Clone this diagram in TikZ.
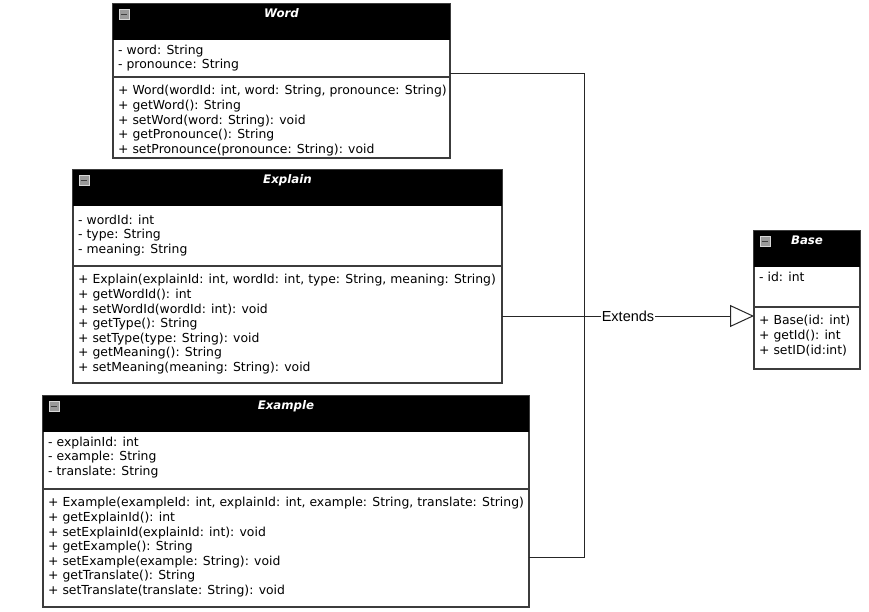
\documentclass[tikz,border=0pt]{standalone}
\usepackage{fontspec}
\setmainfont{DejaVu Sans}
\newfontfamily\edgefont{Liberation Sans}
\usetikzlibrary{arrows.meta,calc}
\definecolor{umlborder}{HTML}{3C3C3C}
\definecolor{iconfill}{HTML}{9A9A9A}
\definecolor{iconedge}{HTML}{D8D8D8}
\tikzset{
  classbox/.style={draw=umlborder, line width=1.3pt, fill=white, anchor=north west, inner sep=0pt, outer sep=0pt},
  headbar/.style={fill=black, anchor=north west, inner sep=0pt, outer sep=0pt, minimum height=36pt},
  classtitle/.style={text=white, font=\fontsize{11.8}{14}\selectfont\bfseries\itshape, text height=8.5pt, text depth=2pt, inner sep=0pt},
  minicon/.style={draw=iconedge, fill=iconfill, line width=0.8pt, minimum size=10pt, inner sep=0pt},
  members/.style={anchor=north west, align=left, inner sep=0pt, font=\fontsize{12.4}{14.6}\selectfont},
  sepline/.style={draw=umlborder, line width=1.3pt},
  link/.style={draw=black!85, line width=1pt},
  extends/.style={link, -{Triangle[open, length=24pt, width=22pt, fill=white]}},
  edgelabel/.style={fill=white, inner sep=0.5pt, font=\edgefont\fontsize{14.5}{16}\selectfont},
}
% #1 name, #2 top-left corner, #3 width, #4 height, #5 separator offset,
% #6 attribute offset, #7 title, #8 attributes, #9 operations
\newcommand{\umlclass}[9]{%
  \node[classbox, minimum width=#3pt, minimum height=#4pt] (#1) at (#2) {};
  \node[headbar, minimum width=#3pt] (#1-head) at (#1.north west) {};
  \node[minicon] (#1-icon) at ([xshift=11pt, yshift=-10pt]#1.north west) {};
  \draw[line width=1.3pt, black!75] ([xshift=2pt, yshift=-0.8pt]#1-icon.west) -- ([xshift=-2pt, yshift=-0.8pt]#1-icon.east);
  \node[classtitle] (#1-title) at ([yshift=-10pt]#1.north) {#7};
  \draw[sepline] ([yshift=-#5pt]#1.north west) -- ([yshift=-#5pt]#1.north east);
  \node[members] (#1-attrs) at ([xshift=5pt, yshift=-#6pt]#1.north west) {\rule{0pt}{10pt}#8};
  \node[members] (#1-ops) at ([xshift=5pt, yshift=-#5pt-7.6pt]#1.north west) {\rule{0pt}{10pt}#9};
}
\begin{document}
\begin{tikzpicture}[x=1pt, y=-1pt]
\useasboundingbox[fill=white] (0,0) rectangle (869,611);

\umlclass{word}{113,4}{337}{154}{73}{40.1}{Word}
  {- word: String\\- pronounce: String}
  {+ Word(wordId: int, word: String, pronounce: String)\\+ getWord(): String\\+ setWord(word: String): void\\+ getPronounce(): String\\+ setPronounce(pronounce: String): void}

\umlclass{explain}{73,170}{429}{213}{96}{44.1}{Explain}
  {- wordId: int\\- type: String\\- meaning: String}
  {+ Explain(explainId: int, wordId: int, type: String, meaning: String)\\+ getWordId(): int\\+ setWordId(wordId: int): void\\+ getType(): String\\+ setType(type: String): void\\+ getMeaning(): String\\+ setMeaning(meaning: String): void}

\umlclass{example}{43,396}{486}{211}{93}{40.1}{Example}
  {- explainId: int\\- example: String\\- translate: String}
  {+ Example(exampleId: int, explainId: int, example: String, translate: String)\\+ getExplainId(): int\\+ setExplainId(explainId: int): void\\+ getExample(): String\\+ setExample(example: String): void\\+ getTranslate(): String\\+ setTranslate(translate: String): void}

\umlclass{base}{754,231}{106}{138}{76}{40.1}{Base}
  {- id: int}
  {+ Base(id: int)\\+ getId(): int\\+ setID(id:int)}

% generalisation edges joining on a shared vertical bus
\coordinate (bus) at (584,316);
\draw[link] ([yshift=-69pt]word.north east) -| (bus);
\draw[link] ([yshift=-161pt]example.north east) -| (bus);
\draw[extends] ([yshift=-146pt]explain.north east) -- node[edgelabel, pos=0.5] (extlabel) {Extends} ([yshift=-85pt]base.north west);
\end{tikzpicture}
\end{document}
